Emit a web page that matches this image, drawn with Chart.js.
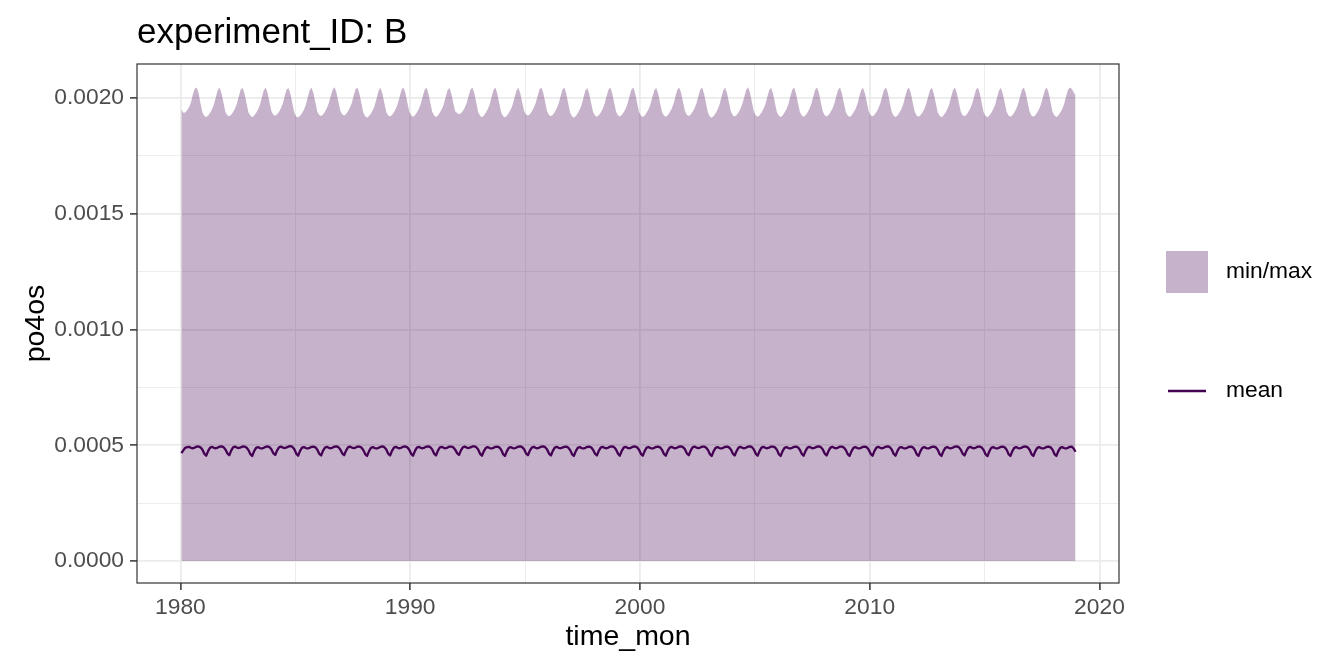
<!DOCTYPE html>
<html><head><meta charset="utf-8">
<script src="https://cdn.jsdelivr.net/npm/chart.js@4.4.1/dist/chart.umd.min.js"></script>
<style>html,body{margin:0;padding:0;background:#fff;}#wrap{width:1344px;height:672px;position:relative;}</style>
</head><body><div id="wrap"><canvas id="c" width="1344" height="672"></canvas></div>
<script>
const years = [1980,1981,1982,1983,1984,1985,1986,1987,1988,1989,1990,1991,1992,1993,1994,1995,1996,1997,1998,1999,2000,2001,2002,2003,2004,2005,2006,2007,2008,2009,2010,2011,2012,2013,2014,2015,2016,2017,2018];

const maxPo4os = [
[0.001952,0.001936,0.001938,0.001947,0.001960,0.001981,0.002016,0.002040,0.002046,0.002021,0.001976,0.001938],
[0.001922,0.001918,0.001925,0.001936,0.001951,0.001973,0.002004,0.002035,0.002044,0.002020,0.001980,0.001940],
[0.001926,0.001921,0.001928,0.001940,0.001955,0.001976,0.002008,0.002037,0.002043,0.002018,0.001978,0.001939],
[0.001924,0.001917,0.001924,0.001935,0.001950,0.001970,0.002001,0.002033,0.002046,0.002023,0.001983,0.001944],
[0.001928,0.001923,0.001930,0.001941,0.001956,0.001977,0.002010,0.002038,0.002042,0.002016,0.001975,0.001936],
[0.001920,0.001916,0.001923,0.001934,0.001949,0.001971,0.002003,0.002034,0.002045,0.002021,0.001981,0.001941],
[0.001927,0.001922,0.001929,0.001942,0.001957,0.001978,0.002009,0.002036,0.002047,0.002024,0.001984,0.001945],
[0.001930,0.001925,0.001931,0.001943,0.001958,0.001979,0.002011,0.002039,0.002044,0.002019,0.001977,0.001937],
[0.001921,0.001915,0.001922,0.001933,0.001948,0.001969,0.002000,0.002032,0.002043,0.002020,0.001979,0.001940],
[0.001925,0.001920,0.001927,0.001939,0.001954,0.001975,0.002006,0.002036,0.002046,0.002022,0.001982,0.001942],
[0.001926,0.001919,0.001926,0.001938,0.001953,0.001974,0.002005,0.002035,0.002045,0.002021,0.001980,0.001941],
[0.001924,0.001918,0.001925,0.001937,0.001952,0.001972,0.002003,0.002034,0.002044,0.002019,0.001978,0.001943],
[0.001935,0.001930,0.001934,0.001944,0.001958,0.001978,0.002009,0.002037,0.002046,0.002022,0.001981,0.001940],
[0.001923,0.001917,0.001924,0.001936,0.001951,0.001972,0.002004,0.002035,0.002045,0.002020,0.001979,0.001939],
[0.001922,0.001916,0.001923,0.001935,0.001950,0.001971,0.002002,0.002033,0.002044,0.002021,0.001982,0.001944],
[0.001929,0.001924,0.001930,0.001942,0.001957,0.001977,0.002008,0.002037,0.002046,0.002023,0.001983,0.001943],
[0.001927,0.001921,0.001928,0.001940,0.001955,0.001975,0.002006,0.002036,0.002045,0.002020,0.001978,0.001938],
[0.001921,0.001915,0.001922,0.001934,0.001949,0.001970,0.002001,0.002033,0.002043,0.002019,0.001979,0.001941],
[0.001925,0.001919,0.001926,0.001938,0.001953,0.001974,0.002005,0.002035,0.002046,0.002022,0.001981,0.001942],
[0.001926,0.001920,0.001927,0.001939,0.001954,0.001975,0.002007,0.002036,0.002045,0.002021,0.001980,0.001940],
[0.001924,0.001918,0.001925,0.001937,0.001952,0.001973,0.002004,0.002034,0.002044,0.002020,0.001980,0.001941],
[0.001925,0.001919,0.001926,0.001938,0.001953,0.001974,0.002006,0.002036,0.002046,0.002023,0.001983,0.001944],
[0.001928,0.001922,0.001929,0.001941,0.001956,0.001976,0.002008,0.002037,0.002045,0.002019,0.001977,0.001937],
[0.001920,0.001915,0.001922,0.001934,0.001949,0.001970,0.002002,0.002033,0.002044,0.002021,0.001981,0.001942],
[0.001926,0.001920,0.001927,0.001939,0.001954,0.001975,0.002006,0.002036,0.002047,0.002023,0.001982,0.001942],
[0.001925,0.001919,0.001926,0.001938,0.001953,0.001973,0.002004,0.002034,0.002044,0.002020,0.001979,0.001940],
[0.001924,0.001918,0.001925,0.001937,0.001952,0.001973,0.002005,0.002035,0.002045,0.002021,0.001980,0.001941],
[0.001925,0.001919,0.001926,0.001938,0.001953,0.001974,0.002006,0.002036,0.002046,0.002022,0.001981,0.001942],
[0.001926,0.001920,0.001927,0.001939,0.001954,0.001975,0.002007,0.002036,0.002045,0.002020,0.001979,0.001940],
[0.001924,0.001918,0.001925,0.001937,0.001952,0.001972,0.002003,0.002034,0.002044,0.002021,0.001981,0.001942],
[0.001926,0.001921,0.001928,0.001940,0.001955,0.001976,0.002007,0.002036,0.002046,0.002022,0.001980,0.001940],
[0.001924,0.001918,0.001925,0.001937,0.001952,0.001973,0.002005,0.002035,0.002045,0.002021,0.001980,0.001941],
[0.001925,0.001919,0.001926,0.001938,0.001953,0.001974,0.002005,0.002035,0.002044,0.002019,0.001978,0.001939],
[0.001923,0.001917,0.001924,0.001936,0.001951,0.001972,0.002004,0.002034,0.002045,0.002022,0.001982,0.001943],
[0.001927,0.001921,0.001928,0.001940,0.001955,0.001975,0.002006,0.002036,0.002046,0.002021,0.001979,0.001939],
[0.001923,0.001917,0.001924,0.001936,0.001951,0.001971,0.002002,0.002033,0.002044,0.002020,0.001980,0.001941],
[0.001925,0.001919,0.001926,0.001938,0.001953,0.001974,0.002006,0.002036,0.002046,0.002022,0.001981,0.001942],
[0.001925,0.001919,0.001926,0.001938,0.001953,0.001974,0.002005,0.002035,0.002045,0.002021,0.001980,0.001940],
[0.001924,0.001918,0.001925,0.001937,0.001952,0.001973,0.002005,0.002035,0.002046,0.002040,0.002025,0.002012]
];

const meanPo4os = [
[0.000466,0.000478,0.000489,0.000492,0.000493,0.000489,0.000487,0.000490,0.000494,0.000495,0.000491,0.000481],
[0.000463,0.000455,0.000476,0.000490,0.000493,0.000489,0.000487,0.000490,0.000494,0.000495,0.000492,0.000482],
[0.000465,0.000457,0.000477,0.000491,0.000494,0.000490,0.000488,0.000491,0.000495,0.000494,0.000490,0.000480],
[0.000462,0.000454,0.000475,0.000489,0.000492,0.000488,0.000486,0.000489,0.000493,0.000495,0.000492,0.000483],
[0.000466,0.000458,0.000478,0.000491,0.000494,0.000490,0.000488,0.000491,0.000495,0.000496,0.000493,0.000483],
[0.000464,0.000455,0.000476,0.000490,0.000492,0.000488,0.000486,0.000489,0.000493,0.000494,0.000491,0.000481],
[0.000463,0.000456,0.000477,0.000490,0.000493,0.000489,0.000487,0.000490,0.000494,0.000495,0.000492,0.000482],
[0.000465,0.000457,0.000477,0.000491,0.000494,0.000490,0.000488,0.000490,0.000494,0.000494,0.000490,0.000480],
[0.000462,0.000454,0.000475,0.000489,0.000492,0.000488,0.000486,0.000489,0.000493,0.000495,0.000492,0.000482],
[0.000464,0.000456,0.000476,0.000490,0.000493,0.000489,0.000487,0.000490,0.000494,0.000495,0.000491,0.000481],
[0.000463,0.000455,0.000476,0.000490,0.000493,0.000489,0.000487,0.000490,0.000494,0.000495,0.000492,0.000482],
[0.000464,0.000456,0.000477,0.000491,0.000493,0.000489,0.000487,0.000490,0.000494,0.000494,0.000491,0.000481],
[0.000466,0.000458,0.000478,0.000491,0.000494,0.000490,0.000488,0.000491,0.000495,0.000495,0.000492,0.000482],
[0.000463,0.000455,0.000475,0.000489,0.000492,0.000488,0.000486,0.000489,0.000493,0.000494,0.000491,0.000481],
[0.000462,0.000454,0.000475,0.000489,0.000492,0.000488,0.000487,0.000490,0.000494,0.000495,0.000492,0.000483],
[0.000465,0.000457,0.000477,0.000490,0.000493,0.000489,0.000487,0.000490,0.000494,0.000495,0.000492,0.000482],
[0.000464,0.000456,0.000476,0.000490,0.000493,0.000489,0.000487,0.000490,0.000493,0.000494,0.000490,0.000480],
[0.000462,0.000454,0.000475,0.000489,0.000492,0.000488,0.000486,0.000489,0.000493,0.000494,0.000491,0.000481],
[0.000464,0.000456,0.000476,0.000490,0.000493,0.000489,0.000487,0.000490,0.000494,0.000495,0.000492,0.000482],
[0.000464,0.000455,0.000476,0.000490,0.000493,0.000489,0.000487,0.000490,0.000494,0.000495,0.000491,0.000481],
[0.000463,0.000455,0.000476,0.000490,0.000492,0.000488,0.000486,0.000489,0.000493,0.000494,0.000491,0.000481],
[0.000463,0.000455,0.000476,0.000490,0.000493,0.000489,0.000487,0.000490,0.000494,0.000495,0.000492,0.000483],
[0.000465,0.000457,0.000477,0.000491,0.000494,0.000490,0.000488,0.000490,0.000494,0.000494,0.000490,0.000480],
[0.000462,0.000454,0.000475,0.000489,0.000492,0.000488,0.000486,0.000489,0.000493,0.000494,0.000491,0.000482],
[0.000464,0.000456,0.000476,0.000490,0.000493,0.000489,0.000487,0.000490,0.000494,0.000495,0.000492,0.000482],
[0.000463,0.000455,0.000476,0.000490,0.000493,0.000489,0.000487,0.000490,0.000494,0.000494,0.000491,0.000481],
[0.000462,0.000454,0.000475,0.000489,0.000492,0.000488,0.000486,0.000489,0.000493,0.000494,0.000491,0.000481],
[0.000463,0.000455,0.000476,0.000490,0.000493,0.000489,0.000487,0.000490,0.000494,0.000495,0.000492,0.000482],
[0.000464,0.000456,0.000476,0.000490,0.000493,0.000489,0.000487,0.000490,0.000494,0.000494,0.000490,0.000480],
[0.000462,0.000454,0.000475,0.000489,0.000492,0.000488,0.000486,0.000489,0.000493,0.000494,0.000491,0.000481],
[0.000463,0.000455,0.000476,0.000490,0.000493,0.000489,0.000487,0.000490,0.000494,0.000495,0.000492,0.000482],
[0.000463,0.000455,0.000476,0.000490,0.000492,0.000488,0.000486,0.000489,0.000493,0.000494,0.000491,0.000481],
[0.000462,0.000454,0.000475,0.000489,0.000492,0.000488,0.000486,0.000489,0.000493,0.000494,0.000491,0.000481],
[0.000462,0.000454,0.000475,0.000489,0.000492,0.000488,0.000487,0.000490,0.000494,0.000495,0.000492,0.000482],
[0.000464,0.000456,0.000476,0.000490,0.000493,0.000489,0.000487,0.000490,0.000494,0.000494,0.000490,0.000480],
[0.000461,0.000453,0.000474,0.000489,0.000492,0.000488,0.000486,0.000489,0.000493,0.000494,0.000491,0.000481],
[0.000462,0.000454,0.000475,0.000489,0.000492,0.000488,0.000487,0.000490,0.000494,0.000495,0.000491,0.000481],
[0.000462,0.000454,0.000475,0.000489,0.000492,0.000488,0.000486,0.000489,0.000493,0.000494,0.000491,0.000481],
[0.000462,0.000454,0.000475,0.000489,0.000492,0.000488,0.000486,0.000489,0.000493,0.000494,0.000486,0.000472]
];

const minPo4os = [
[0,0,0,0,0,0,0,0,0,0,0,0],[0,0,0,0,0,0,0,0,0,0,0,0],[0,0,0,0,0,0,0,0,0,0,0,0],[0,0,0,0,0,0,0,0,0,0,0,0],
[0,0,0,0,0,0,0,0,0,0,0,0],[0,0,0,0,0,0,0,0,0,0,0,0],[0,0,0,0,0,0,0,0,0,0,0,0],[0,0,0,0,0,0,0,0,0,0,0,0],
[0,0,0,0,0,0,0,0,0,0,0,0],[0,0,0,0,0,0,0,0,0,0,0,0],[0,0,0,0,0,0,0,0,0,0,0,0],[0,0,0,0,0,0,0,0,0,0,0,0],
[0,0,0,0,0,0,0,0,0,0,0,0],[0,0,0,0,0,0,0,0,0,0,0,0],[0,0,0,0,0,0,0,0,0,0,0,0],[0,0,0,0,0,0,0,0,0,0,0,0],
[0,0,0,0,0,0,0,0,0,0,0,0],[0,0,0,0,0,0,0,0,0,0,0,0],[0,0,0,0,0,0,0,0,0,0,0,0],[0,0,0,0,0,0,0,0,0,0,0,0],
[0,0,0,0,0,0,0,0,0,0,0,0],[0,0,0,0,0,0,0,0,0,0,0,0],[0,0,0,0,0,0,0,0,0,0,0,0],[0,0,0,0,0,0,0,0,0,0,0,0],
[0,0,0,0,0,0,0,0,0,0,0,0],[0,0,0,0,0,0,0,0,0,0,0,0],[0,0,0,0,0,0,0,0,0,0,0,0],[0,0,0,0,0,0,0,0,0,0,0,0],
[0,0,0,0,0,0,0,0,0,0,0,0],[0,0,0,0,0,0,0,0,0,0,0,0],[0,0,0,0,0,0,0,0,0,0,0,0],[0,0,0,0,0,0,0,0,0,0,0,0],
[0,0,0,0,0,0,0,0,0,0,0,0],[0,0,0,0,0,0,0,0,0,0,0,0],[0,0,0,0,0,0,0,0,0,0,0,0],[0,0,0,0,0,0,0,0,0,0,0,0],
[0,0,0,0,0,0,0,0,0,0,0,0],[0,0,0,0,0,0,0,0,0,0,0,0],[0,0,0,0,0,0,0,0,0,0,0,0]
];

const yTickValues = [0,0.00025,0.0005,0.00075,0.001,0.00125,0.0015,0.00175,0.002];
const yTickLabels = ['0.0000','','0.0005','','0.0010','','0.0015','','0.0020'];
const xTickValues = [1980,1985,1990,1995,2000,2005,2010,2015,2020];
const xTickLabels = ['1980','','1990','','2000','','2010','','2020'];

const FONT = '"Liberation Sans", Arial, Helvetica, sans-serif';

function toPoints(rows){
  const pts = [];
  rows.forEach((row, i) => {
    row.forEach((v, m) => {
      pts.push({x: years[i] + (m + 0.5) / 12, y: v});
    });
  });
  return pts;
}

const decor = {
  id: 'decor',
  afterDraw(chart){
    const {ctx, chartArea: a} = chart;
    ctx.save();
    ctx.strokeStyle = '#333333';
    ctx.lineWidth = 1.2;
    ctx.strokeRect(a.left, a.top, a.right - a.left, a.bottom - a.top);
    ctx.fillStyle = '#000';
    ctx.font = '35px ' + FONT;
    ctx.textAlign = 'left';
    ctx.textBaseline = 'alphabetic';
    ctx.fillText('experiment_ID: B', a.left, 43);
    ctx.fillStyle = 'rgba(68,1,84,0.3)';
    ctx.fillRect(1166, 251, 42, 42);
    ctx.strokeStyle = '#440154';
    ctx.lineWidth = 2.6;
    ctx.beginPath();
    ctx.moveTo(1168, 391);
    ctx.lineTo(1206, 391);
    ctx.stroke();
    ctx.fillStyle = '#000';
    ctx.font = '22.8px ' + FONT;
    ctx.textBaseline = 'middle';
    ctx.fillText('min/max', 1226, 272);
    ctx.fillText('mean', 1226, 391);
    ctx.restore();
  }
};

const isMajor = c => c.index % 2 === 0;

new Chart(document.getElementById('c'), {
  type: 'line',
  data: {
    datasets: [
      {label: 'min', data: toPoints(minPo4os), borderColor: 'rgba(0,0,0,0)', borderWidth: 0, pointRadius: 0, fill: false},
      {label: 'min/max', data: toPoints(maxPo4os), borderColor: 'rgba(0,0,0,0)', borderWidth: 0, pointRadius: 0,
       backgroundColor: 'rgba(68,1,84,0.3)', fill: '-1'},
      {label: 'mean', data: toPoints(meanPo4os), borderColor: '#440154', borderWidth: 2.3, pointRadius: 0, fill: false,
       borderJoinStyle: 'round', tension: 0}
    ]
  },
  options: {
    responsive: false,
    animation: false,
    devicePixelRatio: 1,
    layout: {padding: {left: 0, right: 225, top: 64, bottom: 0}},
    plugins: {legend: {display: false}, title: {display: false}, tooltip: {enabled: false}},
    scales: {
      x: {
        type: 'linear',
        min: 1978.11, max: 2020.85,
        afterBuildTicks: s => { s.ticks = xTickValues.map(v => ({value: v})); },
        afterFit: s => { s.height = 89; },
        ticks: {autoSkip: false, maxRotation: 0, minRotation: 0, padding: 4, color: '#4D4D4D',
                font: {family: FONT, size: 22.8}, callback: (v, i) => xTickLabels[i]},
        grid: {color: '#EBEBEB', lineWidth: c => isMajor(c) ? 1.8 : 0.9,
               tickColor: c => isMajor(c) ? '#333333' : 'rgba(0,0,0,0)', tickLength: 7, tickWidth: 1.5},
        border: {display: false},
        title: {display: true, text: 'time_mon', color: '#000', font: {family: FONT, size: 28.5}, padding: {top: 0, bottom: 18}}
      },
      y: {
        type: 'linear',
        min: -0.000095, max: 0.002147,
        afterBuildTicks: s => { s.ticks = yTickValues.map(v => ({value: v})); },
        afterFit: s => { s.width = 137; },
        ticks: {autoSkip: false, padding: 6, color: '#4D4D4D',
                font: {family: FONT, size: 22.8}, callback: (v, i) => yTickLabels[i]},
        grid: {color: '#EBEBEB', lineWidth: c => isMajor(c) ? 1.8 : 0.9,
               tickColor: c => isMajor(c) ? '#333333' : 'rgba(0,0,0,0)', tickLength: 7, tickWidth: 1.5},
        border: {display: false},
        title: {display: true, text: 'po4os', color: '#000', font: {family: FONT, size: 28.5}, padding: {top: 19, bottom: 0}}
      }
    }
  },
  plugins: [decor]
});
</script>
</body></html>
